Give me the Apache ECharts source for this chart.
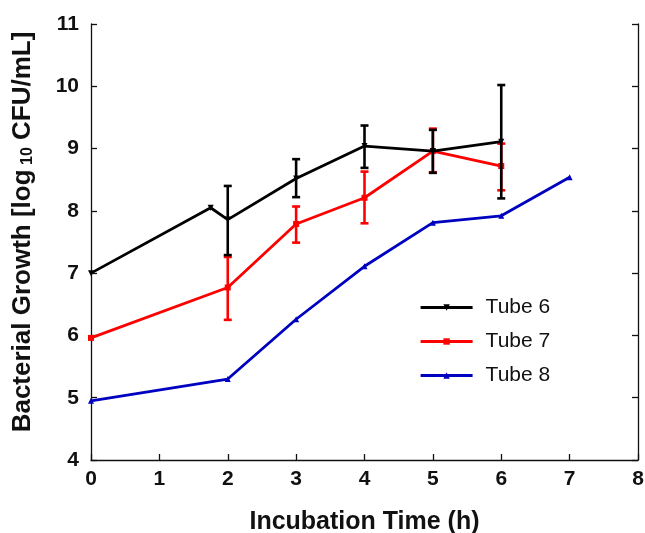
<!DOCTYPE html>
<html><head><meta charset="utf-8">
<script src="https://cdn.jsdelivr.net/npm/echarts@6/dist/echarts.min.js"></script>
<style>html,body{margin:0;padding:0;background:#fff}#c{width:645px;height:533px}</style>
</head><body><div id="c"></div>
<script>
// Data
const tube6X = [0, 1.75, 2, 3, 4, 5, 6];
const tube6Y = [7.0, 8.05, 7.86, 8.52, 9.04, 8.96, 9.11];
const tube6ErrX = [2, 3, 4, 5, 6];
const tube6ErrLow = [7.29, 8.22, 8.69, 8.61, 8.2];
const tube6ErrHigh = [8.4, 8.83, 9.37, 9.3, 10.02];

const tube7X = [0, 2, 3, 4, 5, 6];
const tube7Y = [5.96, 6.77, 7.79, 8.21, 8.96, 8.72];
const tube7ErrX = [2, 3, 4, 5, 6];
const tube7ErrLow = [6.25, 7.49, 7.8, 8.62, 8.33];
const tube7ErrHigh = [7.26, 8.07, 8.63, 9.32, 9.08];

const tube8X = [0, 2, 3, 4, 5, 6, 7];
const tube8Y = [4.95, 5.3, 6.26, 7.11, 7.81, 7.92, 8.54];

const xTicks = {min: 0, max: 8, interval: 1};
const yTicks = {min: 4, max: 11, interval: 1};

const pair = (xs, ys) => xs.map((x, i) => [x, ys[i]]);
const errData = (xs, lo, hi) => xs.map((x, i) => [x, lo[i], hi[i]]);

function errSeries(name, color, data, z) {
  return {
    type: 'custom', name: name + ' err', z: z, silent: true,
    data: data,
    renderItem: function (params, api) {
      const x = api.value(0);
      const lo = api.coord([x, api.value(1)]);
      const hi = api.coord([x, api.value(2)]);
      const w = 4;
      const st = {stroke: color, lineWidth: 2.6};
      return {type: 'group', children: [
        {type: 'line', shape: {x1: lo[0], y1: lo[1], x2: hi[0], y2: hi[1]}, style: st},
        {type: 'line', shape: {x1: lo[0] - w, y1: lo[1], x2: lo[0] + w, y2: lo[1]}, style: st},
        {type: 'line', shape: {x1: hi[0] - w, y1: hi[1], x2: hi[0] + w, y2: hi[1]}, style: st}
      ]};
    }
  };
}

const labelFont = 'Liberation Sans, Arial, sans-serif';
const chart = echarts.init(document.getElementById('c'), null, {renderer: 'canvas'});
chart.setOption({
  animation: false,
  backgroundColor: '#fff',
  grid: {left: 91, right: 7, top: 24, bottom: 73, containLabel: false, outerBoundsMode: 'none'},
  legend: {
    orient: 'vertical', left: 414, top: 292, itemWidth: 52, itemHeight: 8, itemGap: 13,
    data: ['Tube 6', 'Tube 7', 'Tube 8'],
    lineStyle: {width: 3.2},
    textStyle: {fontSize: 21, color: '#111', fontFamily: labelFont, padding: [0, 0, 0, 8]}
  },
  xAxis: {
    type: 'value', min: xTicks.min, max: xTicks.max, interval: xTicks.interval,
    name: 'Incubation Time (h)', nameLocation: 'middle', nameGap: 50,
    nameTextStyle: {fontSize: 25, fontWeight: 'bold', color: '#111', fontFamily: labelFont},
    axisLine: {show: true, lineStyle: {color: '#111', width: 1.3}},
    axisTick: {show: true, inside: true, length: 6, lineStyle: {color: '#111', width: 1.3}},
    axisLabel: {fontSize: 21, fontWeight: 'bold', color: '#111', margin: 9, fontFamily: labelFont},
    splitLine: {show: false}
  },
  yAxis: [{
    type: 'value', min: yTicks.min, max: yTicks.max, interval: yTicks.interval, position: 'left',
    name: '{a|Bacterial Growth [log}{s| 10}{a| CFU/mL]}', nameLocation: 'middle', nameGap: 55, nameRotate: 90,
    nameTextStyle: {
      color: '#111', padding: [0, 0, 0, 20],
      rich: {
        a: {fontSize: 26, fontWeight: 'bold', color: '#111', fontFamily: labelFont},
        s: {fontSize: 16, fontWeight: 'bold', color: '#111', fontFamily: labelFont, verticalAlign: 'bottom', padding: [10, 0, 0, 0]}
      }
    },
    axisLine: {show: true, lineStyle: {color: '#111', width: 1.3}},
    axisTick: {show: true, inside: true, length: 6, lineStyle: {color: '#111', width: 1.3}},
    axisLabel: {fontSize: 21, fontWeight: 'bold', color: '#111', margin: 12, fontFamily: labelFont},
    splitLine: {show: false}
  }, {
    type: 'value', min: yTicks.min, max: yTicks.max, interval: yTicks.interval, position: 'right',
    axisLine: {show: true, lineStyle: {color: '#111', width: 1.3}},
    axisTick: {show: true, inside: true, length: 6, lineStyle: {color: '#111', width: 1.3}},
    axisLabel: {show: false},
    splitLine: {show: false}
  }],
  series: [
    errSeries('Tube 7', '#ff0000', errData(tube7ErrX, tube7ErrLow, tube7ErrHigh), 3),
    errSeries('Tube 6', '#000000', errData(tube6ErrX, tube6ErrLow, tube6ErrHigh), 4),
    {name: 'Tube 6', type: 'line', data: pair(tube6X, tube6Y), color: '#000000', z: 5,
     symbol: 'triangle', symbolRotate: 180, symbolSize: 6, showAllSymbol: true,
     lineStyle: {width: 2.8, color: '#000'}, itemStyle: {color: '#000'}},
    {name: 'Tube 7', type: 'line', data: pair(tube7X, tube7Y), color: '#ff0000', z: 3,
     symbol: 'rect', symbolSize: 6, showAllSymbol: true,
     lineStyle: {width: 2.8, color: '#ff0000'}, itemStyle: {color: '#ff0000'}},
    {name: 'Tube 8', type: 'line', data: pair(tube8X, tube8Y), color: '#0000c0', z: 2,
     symbol: 'triangle', symbolSize: 6, showAllSymbol: true,
     lineStyle: {width: 2.8, color: '#0000c0'}, itemStyle: {color: '#0000c0'}}
  ]
});
</script></body></html>
